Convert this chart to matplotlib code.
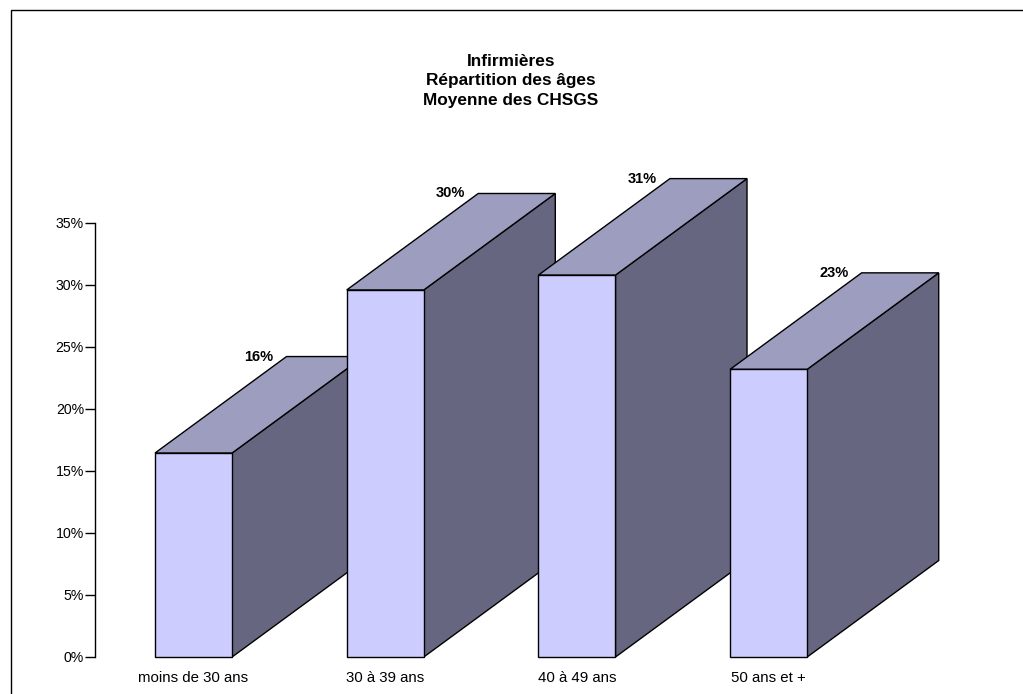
import matplotlib
matplotlib.use('Agg')
import matplotlib.pyplot as plt
from matplotlib.patches import Polygon, Rectangle

categories = ['moins de 30 ans', '30 à 39 ans', '40 à 49 ans', '50 ans et +']
values = [16.45, 29.6, 30.8, 23.2]
value_labels = ['16%', '30%', '31%', '23%']
yticks = [0, 5, 10, 15, 20, 25, 30, 35]

plt.rcParams['font.family'] = ['Liberation Sans', 'DejaVu Sans']

fig = plt.figure(figsize=(10.23, 6.94), dpi=100)
# cadre autour du graphique
fig.patches.append(Rectangle((11 / 1023, -0.05), 1.1, 1.05 - 10 / 694, transform=fig.transFigure,
                             fill=False, edgecolor='black', linewidth=1.0))

ax = fig.add_axes([95 / 1023, 37 / 694, 865 / 1023, 496 / 694])
ax.set_xlim(-0.514, 3.998)
ax.set_ylim(0, 40)

# pseudo 3D
w = 0.402     # largeur de la face avant
dx = 0.686    # profondeur en x (unités de catégorie)
dy = 7.78     # profondeur en y (%)
front_c = '#CCCCFF'
top_c = '#9D9DC0'
side_c = '#666680'

for i, v in enumerate(values):
    x0, x1 = i - w / 2, i + w / 2
    side = Polygon([(x1, 0), (x1 + dx, dy), (x1 + dx, v + dy), (x1, v)],
                   facecolor=side_c, edgecolor='black', linewidth=1.0, clip_on=False)
    top = Polygon([(x0, v), (x1, v), (x1 + dx, v + dy), (x0 + dx, v + dy)],
                  facecolor=top_c, edgecolor='black', linewidth=1.0, clip_on=False)
    front = Polygon([(x0, 0), (x1, 0), (x1, v), (x0, v)],
                    facecolor=front_c, edgecolor='black', linewidth=1.0, clip_on=False)
    ax.add_patch(side)
    ax.add_patch(top)
    ax.add_patch(front)
    ax.annotate(value_labels[i], (x0 + dx, v + dy), xytext=(-9.5, 0), textcoords='offset points',
                ha='right', va='center', fontsize=10.5, fontweight='bold')

ax.set_xticks(range(len(categories)))
ax.set_xticklabels(categories, fontsize=10.8)
ax.tick_params(axis='x', length=0, pad=10)
ax.set_yticks(yticks)
ax.set_yticklabels([f'{t}%' for t in yticks], fontsize=10.2)
ax.tick_params(axis='y', length=7, width=1.0, pad=1)

for s in ['top', 'right', 'bottom']:
    ax.spines[s].set_visible(False)
ax.spines['left'].set_bounds(0, 35)
ax.spines['left'].set_linewidth(1.0)
ax.patch.set_alpha(0)

fig.text(511 / 1023, 1 - 81 / 694, 'Infirmières\nRépartition des âges\nMoyenne des CHSGS',
         ha='center', va='center', fontsize=12.4, fontweight='bold', linespacing=1.38)

fig.savefig('out.png', dpi=100)
